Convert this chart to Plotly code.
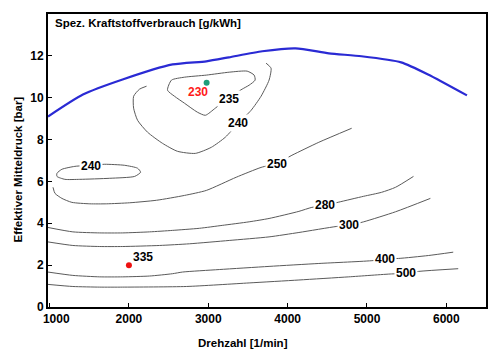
import plotly.graph_objects as go

# Full-load line (Volllast)
vl_x = [980, 1420, 1920, 2550, 2975, 3260, 3680, 4100, 4520, 4930, 5430, 5770, 6260]
vl_y = [9.1, 10.15, 10.87, 11.59, 11.74, 11.93, 12.22, 12.36, 12.12, 11.98, 11.69, 11.11, 10.11]

# Iso-consumption contour lines [g/kWh]
c235_x = [2486, 2536, 2699, 2975, 3264, 3490, 3578, 3590, 3515, 3427, 3251, 3088, 2963, 2862, 2699, 2574, 2486]
c235_y = [10.36, 10.84, 10.98, 11.08, 11.22, 11.27, 11.08, 10.84, 10.60, 10.41, 9.98, 9.50, 9.16, 9.31, 9.74, 10.07, 10.36]

c240a_x = [2222, 2134, 2059, 2059, 2109, 2235, 2423, 2611, 2837, 3038, 3214, 3377, 3540, 3665, 3766, 3791, 3728]
c240a_y = [10.55, 10.41, 10.07, 9.50, 8.92, 8.35, 7.82, 7.44, 7.34, 7.63, 8.11, 8.78, 9.40, 10.07, 10.84, 11.41, 11.65]

c240b_x = [1093, 1155, 1319, 1507, 1695, 1946, 2109, 2147, 2072, 1758, 1381, 1193, 1093, 1093]
c240b_y = [6.39, 6.58, 6.72, 6.77, 6.82, 6.77, 6.63, 6.44, 6.24, 6.15, 6.10, 6.10, 6.24, 6.39]

c250_x = [1043, 1068, 1155, 1281, 1507, 1720, 2009, 2348, 2699, 2975, 3352, 3665, 3866, 4054, 4393, 4807]
c250_y = [5.72, 5.43, 5.19, 5.00, 4.93, 4.93, 4.98, 5.10, 5.33, 5.57, 6.20, 6.67, 6.87, 7.25, 7.87, 8.54]

c280_x = [980, 1293, 1632, 1921, 2260, 2548, 2887, 3176, 3515, 3766, 4142, 4305, 4481, 4644, 4958, 5184, 5360, 5586]
c280_y = [3.80, 3.59, 3.54, 3.54, 3.59, 3.66, 3.76, 3.90, 4.07, 4.23, 4.57, 4.76, 4.86, 5.01, 5.29, 5.48, 5.72, 6.24]

c300_x = [980, 1293, 1632, 1921, 2385, 2762, 3264, 3766, 4142, 4619, 4770, 4958, 5360, 5799]
c300_y = [3.11, 2.94, 2.89, 2.89, 2.94, 3.02, 3.18, 3.35, 3.56, 3.85, 3.90, 4.07, 4.55, 5.19]

c400_x = [980, 1293, 1632, 1921, 2260, 2548, 2674, 3139, 3766, 4393, 5083, 5233, 5397, 5774, 6087]
c400_y = [1.67, 1.51, 1.44, 1.44, 1.48, 1.59, 1.67, 1.79, 1.94, 2.08, 2.22, 2.31, 2.32, 2.46, 2.62]

c500_x = [980, 1293, 1632, 1921, 2724, 3515, 4142, 4770, 5309, 5485, 5648, 6150]
c500_y = [1.08, 0.98, 0.95, 0.95, 0.98, 1.15, 1.29, 1.44, 1.58, 1.60, 1.70, 1.83]

# Contour labels
lbl_text = ["235", "240", "240", "250", "280", "300", "400", "500"]
lbl_x = [3255, 3380, 1516, 3870, 4477, 4779, 5230, 5489]
lbl_y = [9.96, 8.79, 6.74, 6.85, 4.86, 3.90, 2.31, 1.62]

# Operating points
best_x, best_y, best_lbl = 2979, 10.71, "230"
op_x, op_y, op_lbl = 2000, 2.0, "335"

x_ticks = [1000, 2000, 3000, 4000, 5000, 6000]
y_ticks = [0, 2, 4, 6, 8, 10, 12]

FONT = "Arial, Liberation Sans, sans-serif"
GRAY = "#5a5a5a"

fig = go.Figure()
for cx, cy in [(c235_x, c235_y), (c240a_x, c240a_y), (c240b_x, c240b_y), (c250_x, c250_y),
               (c280_x, c280_y), (c300_x, c300_y), (c400_x, c400_y), (c500_x, c500_y)]:
    fig.add_trace(go.Scatter(x=cx, y=cy, mode="lines", line=dict(color=GRAY, width=1, shape="spline", smoothing=0.6),
                             hoverinfo="skip", showlegend=False))

fig.add_trace(go.Scatter(x=vl_x, y=vl_y, mode="lines", line=dict(color="#2a2ad4", width=2.2, shape="spline", smoothing=0.6),
                         showlegend=False))

for t, x, y in zip(lbl_text, lbl_x, lbl_y):
    fig.add_annotation(x=x, y=y, text="<b>%s</b>" % t, showarrow=False, bgcolor="white",
                       borderpad=1, font=dict(family=FONT, size=12, color="black"))

fig.add_trace(go.Scatter(x=[best_x], y=[best_y], mode="markers",
                         marker=dict(color="#1f9e7a", size=6), showlegend=False))
fig.add_annotation(x=best_x, y=best_y, text="<b>%s</b>" % best_lbl, showarrow=False, xshift=-9, yshift=-9,
                   font=dict(family=FONT, size=12, color="#ff1a1a"))

fig.add_trace(go.Scatter(x=[op_x], y=[op_y], mode="markers",
                         marker=dict(color="#ee1111", size=6), showlegend=False))
fig.add_annotation(x=op_x, y=op_y, text="<b>%s</b>" % op_lbl, showarrow=False, xanchor="left", xshift=2, yshift=8,
                   font=dict(family=FONT, size=12, color="black"))

# Titles
fig.add_annotation(xref="paper", yref="paper", x=0.012, y=0.995, xanchor="left", yanchor="top",
                   text="<b>Spez. Kraftstoffverbrauch [g/kWh]</b>", showarrow=False,
                   font=dict(family=FONT, size=11.5, color="black"))
fig.add_annotation(xref="paper", yref="paper", x=0.445, y=-0.095, xanchor="center", yanchor="top",
                   text="<b>Drehzahl [1/min]</b>", showarrow=False,
                   font=dict(family=FONT, size=11.5, color="black"))
fig.add_annotation(xref="paper", yref="paper", x=-0.068, y=0.47, xanchor="center", yanchor="middle",
                   text="<b>Effektiver Mitteldruck [bar]</b>", showarrow=False, textangle=-90,
                   font=dict(family=FONT, size=11.5, color="black"))

x_ticktext = ["<b>%d</b>" % v for v in x_ticks]
x_ticktext[0] = "&nbsp;&nbsp;&nbsp;&nbsp;" + x_ticktext[0]  # first label sits right of its tick, as in the original

fig.update_layout(
    width=500, height=351,
    margin=dict(l=48, r=12, t=14, b=44),
    paper_bgcolor="white", plot_bgcolor="white",
    font=dict(family=FONT, size=11, color="black"),
    showlegend=False,
)
fig.update_xaxes(range=[980, 6500], tickvals=x_ticks, ticktext=x_ticktext,
                 ticks="inside", ticklen=4, tickwidth=1, tickcolor="black",
                 showline=True, linecolor="black", linewidth=2, mirror=True,
                 showgrid=False, zeroline=False, tickfont=dict(family=FONT, size=12))
fig.update_yaxes(range=[0, 14], tickvals=y_ticks, ticktext=["<b>%d</b>" % v for v in y_ticks],
                 ticks="inside", ticklen=4, tickwidth=1, tickcolor="black",
                 showline=True, linecolor="black", linewidth=2, mirror=True,
                 showgrid=False, zeroline=False, tickfont=dict(family=FONT, size=12))

fig.write_html("out.html")
